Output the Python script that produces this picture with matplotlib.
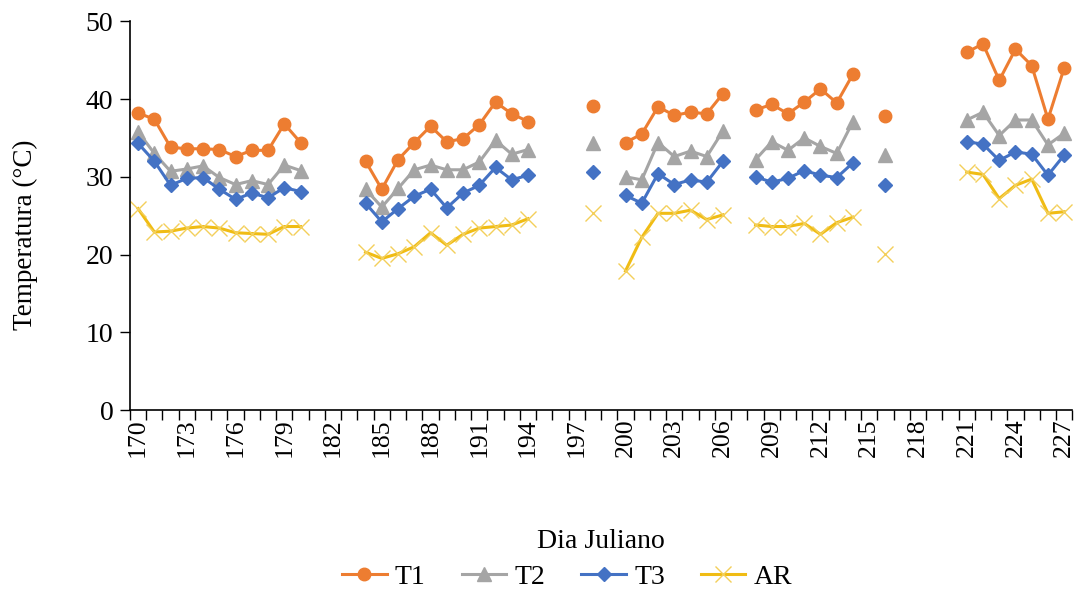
import matplotlib.pyplot as plt
import numpy as np

nan = np.nan

# dias julianos 170..227 (nan = sem leitura)
dias = np.arange(170, 228)

t1 = [38.2, 37.4, 33.8, 33.6, 33.6, 33.5, 32.6, 33.4, 33.4, 36.8, 34.4,
      nan, nan, nan,
      32.0, 28.4, 32.2, 34.4, 36.5, 34.5, 34.9, 36.7, 39.6, 38.1, 37.1,
      nan, nan, nan, 39.1, nan,
      34.4, 35.5, 39.0, 37.9, 38.3, 38.1, 40.7,
      nan,
      38.6, 39.3, 38.1, 39.6, 41.3, 39.5, 43.2,
      nan, 37.8, nan, nan, nan, nan,
      46.0, 47.1, 42.4, 46.4, 44.3, 37.4, 44.0]

t2 = [35.8, 33.0, 30.7, 31.0, 31.4, 29.9, 29.0, 29.5, 29.0, 31.5, 30.8,
      nan, nan, nan,
      28.4, 26.1, 28.5, 30.9, 31.5, 30.9, 30.9, 31.9, 34.7, 32.9, 33.5,
      nan, nan, nan, 34.4, nan,
      30.0, 29.6, 34.4, 32.6, 33.3, 32.6, 35.9,
      nan,
      32.2, 34.5, 33.4, 35.0, 33.9, 33.0, 37.1,
      nan, 32.8, nan, nan, nan, nan,
      37.3, 38.3, 35.3, 37.3, 37.3, 34.1, 35.6]

t3 = [34.3, 32.0, 28.9, 29.8, 29.9, 28.4, 27.1, 27.9, 27.3, 28.6, 28.1,
      nan, nan, nan,
      26.6, 24.2, 25.9, 27.5, 28.4, 26.0, 27.9, 28.9, 31.2, 29.6, 30.2,
      nan, nan, nan, 30.6, nan,
      27.6, 26.6, 30.4, 29.0, 29.6, 29.3, 32.0,
      nan,
      30.0, 29.3, 29.8, 30.8, 30.2, 29.9, 31.8,
      nan, 28.9, nan, nan, nan, nan,
      34.5, 34.2, 32.1, 33.2, 32.9, 30.2, 32.8]

ar = [25.9, 22.9, 23.0, 23.4, 23.6, 23.4, 22.8, 22.7, 22.6, 23.6, 23.6,
      nan, nan, nan,
      20.3, 19.5, 20.1, 21.0, 22.8, 21.2, 22.6, 23.4, 23.6, 23.8, 24.6,
      nan, nan, nan, 25.3, nan,
      17.9, 22.2, 25.3, 25.3, 25.7, 24.5, 25.1,
      nan,
      23.8, 23.6, 23.6, 24.0, 22.6, 24.1, 24.8,
      nan, 20.1, nan, nan, nan, nan,
      30.6, 30.3, 27.2, 28.9, 29.7, 25.3, 25.5]

plt.rcParams['font.family'] = ['Liberation Serif', 'DejaVu Serif']

fig = plt.figure(figsize=(10.92, 5.9), dpi=100)
ax = fig.add_axes([0.119, 0.305, 0.863, 0.659])

ax.plot(dias, t1, color='#ED7D31', lw=2.2, marker='o', ms=9, label='T1')
ax.plot(dias, t2, color='#A5A5A5', lw=2.2, marker='^', ms=9.5, label='T2')
ax.plot(dias, t3, color='#4472C4', lw=2.2, marker='D', ms=7, label='T3')
ax.plot(dias, ar, color='#F0BC14', lw=2.2, marker='x', ms=12, mew=1,
        mec='#F3CF5A', label='AR')

ax.set_xlim(169.5, 227.5)
ax.set_ylim(0, 50)
ax.set_yticks(range(0, 51, 10))
ax.set_xticks(dias[::3])
ax.set_xticklabels([str(d) for d in dias[::3]], rotation=90)
ax.set_xticks(np.arange(169.5, 228, 1), minor=True)
ax.tick_params(axis='x', which='major', length=0, labelsize=18.5, pad=6)
ax.tick_params(axis='x', which='minor', length=7, width=1, color='black')
ax.tick_params(axis='y', length=7, width=1, labelsize=20, pad=5)

for s in ['top', 'right']:
    ax.spines[s].set_visible(False)
for s in ['left', 'bottom']:
    ax.spines[s].set_linewidth(1.2)

ax.set_xlabel('Dia Juliano', fontsize=20)
ax.xaxis.set_label_coords(0.5, -0.305)
ax.set_ylabel('Temperatura (°C)', fontsize=19.5)
ax.yaxis.set_label_coords(-0.098, 0.45)

ax.legend(loc='center', bbox_to_anchor=(0.464, -0.43), ncol=4,
          frameon=False, fontsize=20, handlelength=1.6, columnspacing=1.3,
          handletextpad=0.3, borderaxespad=0)

plt.savefig('out.png', dpi=100)
